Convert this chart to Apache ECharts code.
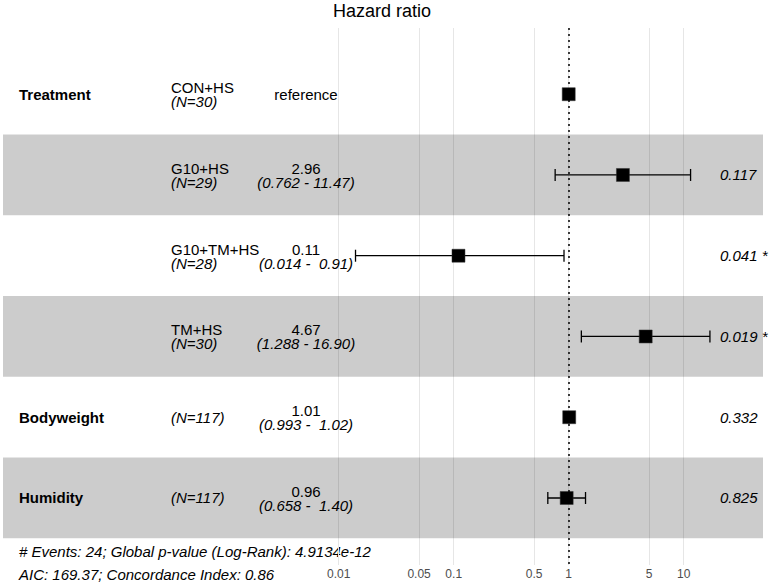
<!DOCTYPE html>
<html><head><meta charset="utf-8">
<script src="https://cdn.jsdelivr.net/npm/echarts@6/dist/echarts.min.js"></script>
<style>html,body{margin:0;padding:0;background:#fff}#c{width:773px;height:586px}</style>
</head><body><div id="c"></div>
<script>
// ---- data ----
const variables = ['Treatment', '', '', '', 'Bodyweight', 'Humidity'];
const levels = ['CON+HS', 'G10+HS', 'G10+TM+HS', 'TM+HS', '', ''];
const nCounts = [30, 29, 28, 30, 117, 117];
const hazardRatios = [1, 2.96, 0.11, 4.67, 1.01, 0.96];
const ciLow = [null, 0.762, 0.014, 1.288, 0.993, 0.658];
const ciHigh = [null, 11.47, 0.91, 16.90, 1.02, 1.40];
const estimateLabels = ['reference', '2.96', '0.11', '4.67', '1.01', '0.96'];
const ciLabels = ['', '(0.762 - 11.47)', '(0.014 -  0.91)', '(1.288 - 16.90)', '(0.993 -  1.02)', '(0.658 -  1.40)'];
const pValueLabels = ['', '0.117', '0.041 *', '0.019 *', '0.332', '0.825'];
const xTicks = [0.01, 0.05, 0.1, 0.5, 1, 5, 10];
const titleText = 'Hazard ratio';
const footerLines = ['# Events: 24; Global p-value (Log-Rank): 4.9134e-12', 'AIC: 169.37; Concordance Index: 0.86'];

// ---- layout ----
const FONT = '"Liberation Sans", Arial, Helvetica, sans-serif';
const FS = 15;
const COL_VAR = 19, COL_LEVEL = 171, COL_EST = 306, COL_P = 720;
const keep = s => s.replace(/ {2}/g, ' \u00a0');
const RICH = {
  n: {fontSize: FS, fontFamily: FONT, color: '#000', lineHeight: 14},
  i: {fontSize: FS, fontFamily: FONT, color: '#000', lineHeight: 14, fontStyle: 'italic'}
};

const chart = echarts.init(document.getElementById('c'), null, {renderer: 'svg'});

const rows = levels.map((_, i) => i + 1);
const bands = rows.filter(r => r % 2 === 0).map(r => [{yAxis: r - 0.5}, {yAxis: r + 0.5}]);

function txt(x, y, text, opts) {
  return {
    type: 'text', x: x, y: y,
    style: Object.assign({
      text: keep(text), fill: '#000', fontSize: FS, fontFamily: FONT,
      align: 'left', verticalAlign: 'middle'
    }, opts || {})
  };
}
function stack(x, y, top, bottom, align) {
  return {
    type: 'text', x: x, y: y + 0.5,
    style: {
      text: '{n|' + keep(top) + '}\n{i|' + keep(bottom) + '}',
      rich: RICH, fontSize: FS, fontFamily: FONT, fill: '#000',
      align: align, verticalAlign: 'middle'
    }
  };
}

chart.setOption({
  animation: false,
  title: {
    text: titleText, left: 333, top: 2, padding: 0,
    textStyle: {fontSize: 18, fontWeight: 'normal', color: '#000', fontFamily: FONT}
  },
  grid: {left: 3, right: 10, top: 28, bottom: 21, containLabel: false},
  xAxis: [{
    type: 'log', logBase: 10, min: 1.205e-5, max: 48.9,
    axisLine: {show: false},
    axisTick: {show: false, customValues: xTicks},
    axisLabel: {customValues: xTicks, color: '#4d4d4d', fontSize: 12, fontFamily: FONT, margin: 3,
      formatter: v => String(+v.toPrecision(6))},
    splitLine: {show: true, lineStyle: {color: '#e6e6e6', width: 1}}
  }, {
    type: 'value', min: 3, max: 763, show: false
  }],
  yAxis: {
    type: 'value', min: 0.18, max: 6.83, inverse: true, show: false
  },
  series: [{
    type: 'custom',
    xAxisIndex: 0, yAxisIndex: 0,
    data: rows.map((r, i) => [hazardRatios[i], r]),
    encode: {x: 0, y: 1},
    renderItem: function (params, api) {
      const i = params.dataIndex;
      const y = api.value(1);
      const c = api.coord([api.value(0), y]);
      const children = [];
      if (ciLow[i] != null) {
        const a = api.coord([ciLow[i], y]);
        const b = api.coord([ciHigh[i], y]);
        const ls = {stroke: '#000', lineWidth: 1.3};
        children.push({type: 'line', shape: {x1: a[0], y1: a[1], x2: b[0], y2: b[1]}, style: ls});
        children.push({type: 'line', shape: {x1: a[0], y1: a[1] - 6, x2: a[0], y2: a[1] + 6}, style: ls});
        children.push({type: 'line', shape: {x1: b[0], y1: b[1] - 6, x2: b[0], y2: b[1] + 6}, style: ls});
      }
      children.push({type: 'rect', shape: {x: c[0] - 6.5, y: c[1] - 6.5, width: 13, height: 13},
        style: {fill: '#000', stroke: '#333', lineWidth: 0.5}});
      return {type: 'group', children: children};
    },
    markLine: {
      silent: true, symbol: 'none', label: {show: false},
      lineStyle: {color: '#000', type: [2, 4], width: 1.5},
      data: [{xAxis: 1}]
    },
    markArea: {
      silent: true,
      itemStyle: {color: 'rgba(0,0,0,0.2)'},
      data: bands
    },
    z: 3
  }, {
    type: 'custom',
    xAxisIndex: 1, yAxisIndex: 0,
    data: rows.map(r => [COL_VAR, r]),
    encode: {x: 0, y: 1},
    renderItem: function (params, api) {
      const i = params.dataIndex;
      const y = api.value(1);
      const children = [];
      const pv = api.coord([COL_VAR, y]);
      if (variables[i]) children.push(txt(pv[0], pv[1], variables[i], {fontWeight: 'bold'}));
      const pl = api.coord([COL_LEVEL, y]);
      const nText = '(N=' + nCounts[i] + ')';
      if (levels[i]) {
        children.push(stack(pl[0], pl[1], levels[i], nText, 'left'));
      } else {
        children.push(txt(pl[0], pl[1], nText, {fontStyle: 'italic'}));
      }
      const pe = api.coord([COL_EST, y]);
      if (ciLabels[i]) {
        children.push(stack(pe[0], pe[1], estimateLabels[i], ciLabels[i], 'center'));
      } else {
        children.push(txt(pe[0], pe[1], estimateLabels[i], {align: 'center'}));
      }
      const pp = api.coord([COL_P, y]);
      if (pValueLabels[i]) children.push(txt(pp[0], pp[1], pValueLabels[i], {fontStyle: 'italic'}));
      return {type: 'group', children: children};
    },
    z: 4
  }],
  graphic: footerLines.map((t, k) => ({
    type: 'text', left: 19, top: 544 + k * 23,
    style: {text: t, fontSize: FS, fontStyle: 'italic', fontFamily: FONT, fill: '#000'}
  }))
});
</script></body></html>
